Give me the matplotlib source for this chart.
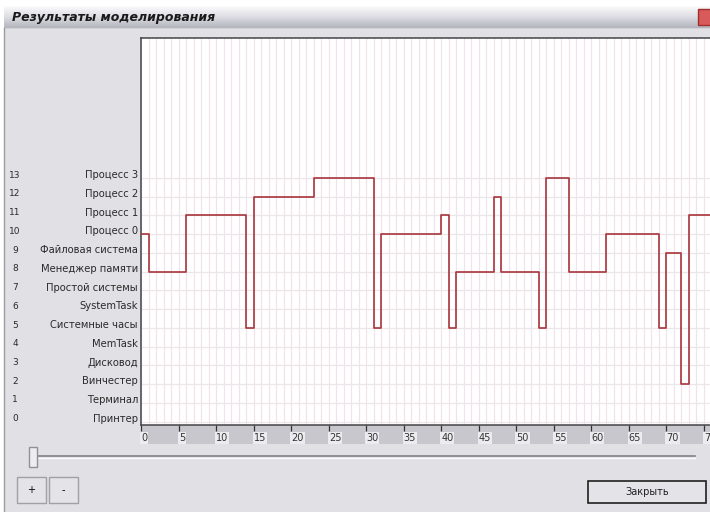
import matplotlib.pyplot as plt
import matplotlib.transforms as mtransforms
from matplotlib.patches import Rectangle
from matplotlib.colors import LinearSegmentedColormap
import numpy as np

# данные
task_names = ['Принтер', 'Терминал', 'Винчестер', 'Дисковод', 'MemTask',
              'Системные часы', 'SystemTask', 'Простой системы',
              'Менеджер памяти', 'Файловая система',
              'Процесс 0', 'Процесс 1', 'Процесс 2', 'Процесс 3']
task_ids = list(range(len(task_names)))

switch_times = [0, 1, 6, 14, 15, 23, 31, 32, 40, 41, 42, 47, 48, 53, 54,
                57, 62, 69, 70, 72, 73, 76]
active_task = [10, 8, 11, 5, 12, 13, 5, 10, 11, 5, 8, 12, 8, 5, 13,
               8, 10, 5, 9, 2, 11, 11]
x_ticks = list(range(0, 80, 5))

W, H = 710, 512
fig = plt.figure(figsize=(W / 100, H / 100), dpi=100)
fig.patch.set_facecolor('white')

# окно (фон, заголовок, кнопки) в пикселях
bg = fig.add_axes([0, 0, 1, 1])
bg.set_xlim(0, W)
bg.set_ylim(H, 0)
bg.axis('off')
bg.add_patch(Rectangle((4, 27), W, H, facecolor='#e1e0e5', edgecolor='#9a9aa0', lw=1))
title_cmap = LinearSegmentedColormap.from_list('tb', ['#fbfbfc', '#dcdce2', '#b4b4be'])
grad = np.linspace(0, 1, 50).reshape(-1, 1)
bg.imshow(grad, cmap=title_cmap, aspect='auto', extent=[4, W, 28, 6], zorder=1)
bg.text(12, 18, 'Результаты моделирования', fontsize=9, fontweight='bold',
        fontstyle='italic', color='#1a1a1a', va='center', zorder=2)
bg.add_patch(Rectangle((698, 9), 14, 16, facecolor='#d85a5a', edgecolor='#a03030', zorder=2))
bg.add_patch(Rectangle((141, 425), W, 19, facecolor='#c8c7cd', edgecolor='none', zorder=2))

# ползунок
bg.plot([30, 695], [456, 456], color='#808088', lw=1.2, zorder=2)
bg.plot([30, 695], [458, 458], color='#fafafa', lw=1.0, zorder=2)
bg.add_patch(Rectangle((29, 447), 8, 20, facecolor='#eeeef0', edgecolor='#909096', lw=1, zorder=3))

# кнопки
for x0, w, lab in [(17, 29, '+'), (49, 29, '-')]:
    bg.add_patch(Rectangle((x0, 477), w, 26, facecolor='#e4e3e8', edgecolor='#a0a0a6', lw=1, zorder=2))
    bg.text(x0 + w / 2, 490, lab, fontsize=7, ha='center', va='center', zorder=3)
bg.add_patch(Rectangle((588, 481), 118, 22, facecolor='#e4e3e8', edgecolor='#202020', lw=1.2, zorder=2))
bg.text(647, 492, 'Закрыть', fontsize=7, ha='center', va='center', color='#202020', zorder=3)

# график
left, right, top, bottom = 141.3, 710, 38, 425
ax = fig.add_axes([left / W, (H - bottom) / H, (right - left) / W, (bottom - top) / H])
ax.set_facecolor('white')
ax.set_xlim(0, (right - left) / 7.5)
ax.set_ylim(-(bottom - 421.5) / 18.73, (421.5 - top) / 18.73)

for t in range(0, 77):
    ax.axvline(t, color='#f1e3eb', lw=0.9, zorder=1)
for k in task_ids:
    ax.axhline(k, color='#ece6ea', lw=0.9, zorder=1)

ax.step(switch_times, active_task, where='post', color='#a8343c', lw=1.2, zorder=3)

ax.set_xticks(x_ticks)
ax.set_xticklabels([str(v) for v in x_ticks], fontsize=7, color='#333333')
for lab in ax.get_xticklabels():
    lab.set_ha('left')
    lab.set_bbox(dict(facecolor='#ececf0', edgecolor='none', pad=0.6))
ax.tick_params(axis='x', direction='out', length=4, width=0.9, color='#333333', pad=2)
ax.set_yticks([])

ax.spines['right'].set_visible(False)
for s in ['left', 'top', 'bottom']:
    ax.spines[s].set_color('#444448')
    ax.spines[s].set_linewidth(1.1)

trans = mtransforms.blended_transform_factory(fig.transFigure, ax.transData)
for k, name in zip(task_ids, task_names):
    ax.text(138 / W, k + 0.15, name, transform=trans, ha='right', va='center',
            fontsize=7.2, color='#2a2a2a', clip_on=False)
    ax.text(15 / W, k + 0.15, str(k), transform=trans, ha='center', va='center',
            fontsize=6.5, color='#2a2a2a', clip_on=False)

fig.savefig('out.png', dpi=100)
